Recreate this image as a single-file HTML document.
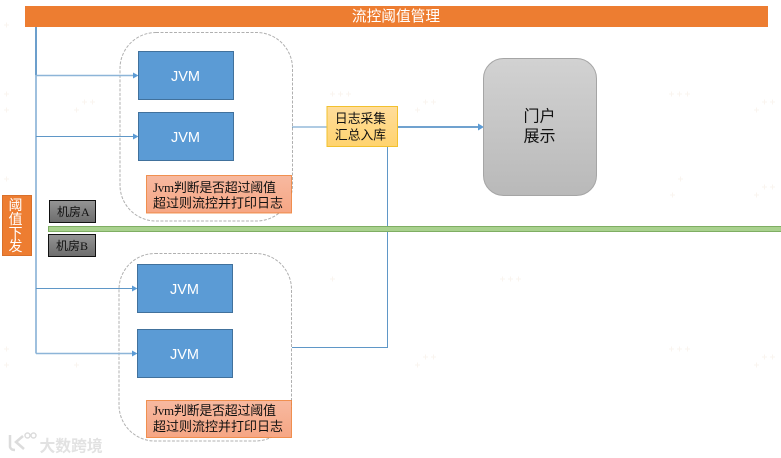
<!DOCTYPE html>
<html><head><meta charset="utf-8"><style>
html,body{margin:0;padding:0;background:#fff}
svg{display:block}
text{font-family:"Liberation Sans","Noto Sans CJK SC",sans-serif}
.c{text-anchor:middle}
.s{font-family:"Liberation Serif","Noto Sans CJK SC",serif}
</style></head><body>
<svg width="781" height="458" viewBox="0 0 781 458" xmlns="http://www.w3.org/2000/svg">
<defs>
<linearGradient id="gr" x1="0" y1="0" x2="0" y2="1"><stop offset="0" stop-color="#d2d2d2"/><stop offset="1" stop-color="#b9b9b9"/></linearGradient>
<linearGradient id="dk" x1="0" y1="0" x2="0" y2="1"><stop offset="0" stop-color="#959595"/><stop offset="1" stop-color="#6c6c6c"/></linearGradient>
<linearGradient id="ye" x1="0" y1="0" x2="0" y2="1"><stop offset="0" stop-color="#ffdd9c"/><stop offset="1" stop-color="#ffd36e"/></linearGradient>
<linearGradient id="sa" x1="0" y1="0" x2="0" y2="1"><stop offset="0" stop-color="#f7b9a0"/><stop offset="1" stop-color="#f6a684"/></linearGradient>
</defs>
<rect width="781" height="458" fill="#fff"/>
<g stroke="#faf4ef" stroke-width="1" fill="none"><path d="M4 25h5M6.500 22.500v5M4 94h5M6.500 91.500v5M4 110h5M6.500 107.500v5M4 179h5M6.500 176.500v5M74 110h5M76.500 107.500v5M82 102h5M84.500 99.500v5M90 102h5M92.500 99.500v5M245 102h5M247.500 99.500v5M253 102h5M255.500 99.500v5M261 102h5M263.500 99.500v5M330 94h5M332.500 91.500v5M338 94h5M340.500 91.500v5M346 94h5M348.500 91.500v5M415 110h5M417.500 107.500v5M423 102h5M425.500 99.500v5M431 102h5M433.500 99.500v5M669 94h5M671.500 91.500v5M677 94h5M679.500 91.500v5M685 94h5M687.500 91.500v5M754 110h5M756.500 107.500v5M762 102h5M764.500 99.500v5M770 102h5M772.500 99.500v5M4 349h5M6.500 346.500v5M4 365h5M6.500 362.500v5M74 365h5M76.500 362.500v5M245 272h5M247.500 269.500v5M253 272h5M255.500 269.500v5M330 279h5M332.500 276.500v5M415 365h5M417.500 362.500v5M423 357h5M425.500 354.500v5M431 357h5M433.500 354.500v5M500 279h5M502.500 276.500v5M508 279h5M510.500 276.500v5M516 279h5M518.500 276.500v5M669 349h5M671.500 346.500v5M677 349h5M679.500 346.500v5M685 349h5M687.500 346.500v5M754 365h5M756.500 362.500v5M762 357h5M764.500 354.500v5M770 357h5M772.500 354.500v5M670 195h5M672.500 192.500v5M678 179h5M680.500 176.500v5M754 195h5M756.500 192.500v5M762 187h5M764.500 184.500v5M770 187h5M772.500 184.500v5"/></g>
<rect x="25" y="6" width="743" height="21" fill="#ed7d31"/>
<text x="396" y="21" class="c" font-size="14.700" fill="#fff">流控阈值管理</text>
<rect x="120" y="32.500" width="172.500" height="188.500" rx="36" fill="#fff" stroke="#b0b0b0" stroke-dasharray="3 1.500"/>
<rect x="119" y="253.500" width="172.500" height="187.500" rx="36" fill="#fff" stroke="#b0b0b0" stroke-dasharray="3 1.500"/>
<g stroke="#5f97c7" fill="none">
<path d="M36 27V353.500" stroke-width="1.200"/>
<path d="M36 27V75" stroke-width="1.800"/>
<path d="M36 75.500H134" stroke="#8db5d8" stroke-width="1.500"/>
<path d="M36 136.500H134"/>
<path d="M36 288.500H134"/>
<path d="M36 353.500H134" stroke="#8db5d8" stroke-width="1.500"/>
<path d="M292 127H327"/>
<path d="M398 127H479" stroke-width="1.800" stroke="#5b94c8"/>
<path d="M387.500 147V347.500H292"/>
</g>
<g fill="#5b9bd5">
<path d="M133 72.500l5.500 3-5.500 3z"/><path d="M133 133.500l5.500 3-5.500 3z"/>
<path d="M132 285.500l5.500 3-5.500 3z"/><path d="M132 350.500l5.500 3-5.500 3z"/>
<path d="M478 123.500l6 3.500-6 3.500z"/>
</g>
<g fill="#5b9bd5" stroke="#41719c">
<rect x="138.500" y="51.500" width="95" height="48"/>
<rect x="138.500" y="112.500" width="95" height="48"/>
<rect x="137.500" y="264.500" width="95" height="48"/>
<rect x="137.500" y="329.500" width="95" height="48"/>
</g>
<g fill="#fff" font-size="14.500" class="c">
<text x="185.500" y="81">JVM</text><text x="185.500" y="142">JVM</text>
<text x="184.500" y="294">JVM</text><text x="184.500" y="359">JVM</text>
</g>
<rect x="146.500" y="175.500" width="145" height="37.500" fill="url(#sa)" stroke="#ed7d31" stroke-opacity=".8"/>
<rect x="146.500" y="400.500" width="145" height="37" fill="url(#sa)" stroke="#ed7d31" stroke-opacity=".8"/>
<g font-size="13" fill="#111">
<text x="153" y="192" class="s" textLength="123">Jvm判断是否超过阈值</text><text x="153" y="207.500">超过则流控并打印日志</text>
<text x="153" y="415" class="s" textLength="123">Jvm判断是否超过阈值</text><text x="153" y="431">超过则流控并打印日志</text>
</g>
<rect x="327" y="106.500" width="70.500" height="40" fill="url(#ye)" stroke="#f2c12e"/>
<text x="360.500" y="123" class="c" font-size="12.800" fill="#111">日志采集</text>
<text x="360.500" y="139.500" class="c" font-size="12.800" fill="#111">汇总入库</text>
<rect x="483.500" y="58.500" width="113" height="137" rx="20" fill="url(#gr)" stroke="#a5a5a5"/>
<text x="539.500" y="121.500" class="c" font-size="16" fill="#111">门户</text>
<text x="539.500" y="141.500" class="c" font-size="16" fill="#111">展示</text>
<rect x="2.500" y="195.500" width="29" height="60" fill="#ed7d31" stroke="#d9702b"/>
<g fill="#fff" font-size="14" class="c">
<text x="15.500" y="210">阈</text><text x="15.500" y="224">值</text><text x="15.500" y="238">下</text><text x="15.500" y="251">发</text>
</g>
<rect x="49.500" y="200.500" width="46" height="22" fill="url(#dk)" stroke="#111"/>
<rect x="48.500" y="234.500" width="47" height="22" fill="url(#dk)" stroke="#111"/>
<text x="57" y="216" font-size="12" fill="#111" class="s">机房A</text>
<text x="56" y="250" font-size="12" fill="#111" class="s">机房B</text>
<rect x="48.500" y="226.500" width="733" height="5" fill="#a9d18e" stroke="#7fae63"/>
<g fill="none" stroke="#dcdcdc" stroke-width="2.500">
<path d="M10 435V447q1 3 5 3M23 436l-7 6 8 7"/>
<circle cx="27.500" cy="435.500" r="2.500" stroke-width="1.500"/><circle cx="33.500" cy="435.500" r="2.500" stroke-width="1.500"/>
</g>
<text x="39.500" y="451.500" font-size="15.800" font-weight="700" fill="#e2e2e2">大数跨境</text>
</svg>
</body></html>
